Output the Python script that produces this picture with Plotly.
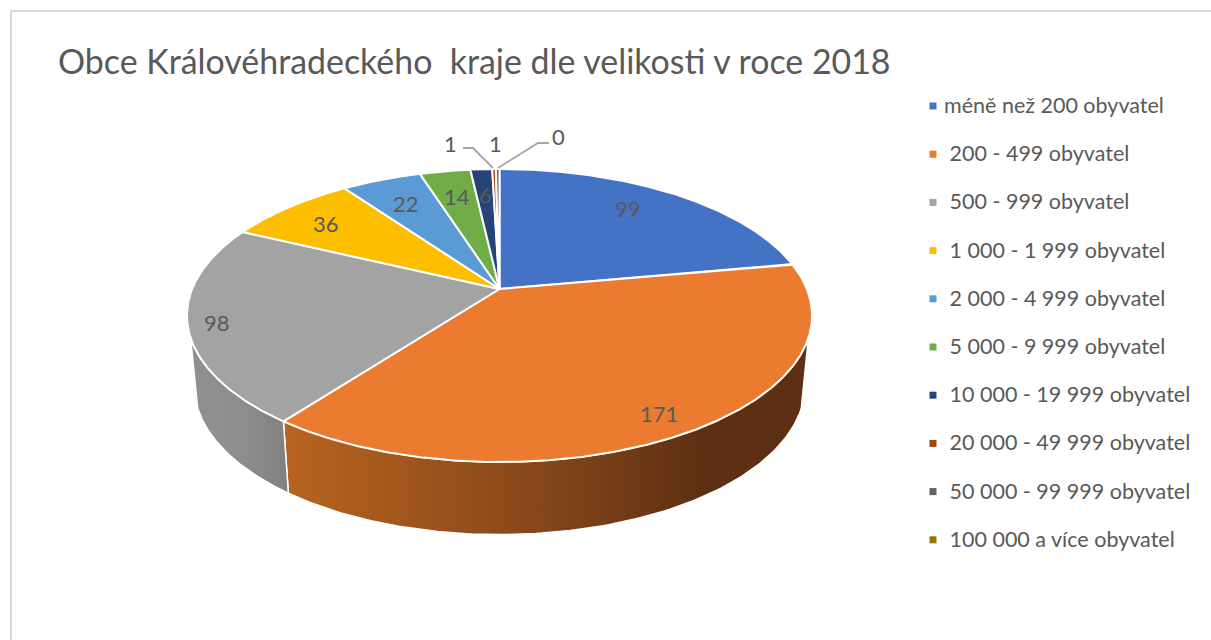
import numpy as np
import plotly.graph_objects as go

categories = ["méně než 200 obyvatel", "\u00a0200 - 499 obyvatel", "\u00a0500 - 999 obyvatel",
              "\u00a01 000 - 1 999 obyvatel", "\u00a02 000 - 4 999 obyvatel", "\u00a05 000 - 9 999 obyvatel",
              "\u00a010 000 - 19 999 obyvatel", "\u00a020 000 - 49 999 obyvatel",
              "\u00a050 000 - 99 999 obyvatel", "\u00a0100 000 a více obyvatel"]
values = [99, 171, 98, 36, 22, 14, 6, 1, 1, 0]
colors = ["#4472C4", "#EA7B30", "#A3A3A3", "#FDBE00", "#5B9BD5",
          "#70AD47", "#264478", "#9E480E", "#636363", "#997300"]
title_text = "Obce Královéhradeckého  kraje dle velikosti v roce 2018"

# value label anchor positions (page pixels), separate from the data
label_x = [628, 659, 217, 326, 406, 457, 485, 450, 495, 558]
label_y = [208, 413, 322, 223, 203, 196, 194, 143, 143, 136]

# projection of the tilted disc
CX, CY, A, B, K = 499.5, 289.0, 307.4, 141.7, 0.181
TOP_MID, TOP_RY, BOT_MID, BOT_RY, BOT_SX = 315.5, 146.5, 385.5, 149.0, 0.977
SILHOUETTE_V = 0.325
TEXT = "#595959"
FONT = "Lato, Carlito, sans-serif"
LEGEND_MARK_X, LEGEND_TEXT_X, LEGEND_Y0, LEGEND_STEP = 933, 942, 105, 48.2


def top(theta):
    u, v = np.sin(theta), -np.cos(theta)
    d = 1 - K * v
    return CX + A * u / d, CY + B * v / d


def rim(theta):
    x, y = top(theta)
    return CX + BOT_SX * (x - CX), BOT_MID + (y - TOP_MID) * BOT_RY / TOP_RY


total = sum(values)
edges = 2 * np.pi * np.concatenate([[0], np.cumsum(values)]) / total
vis_lo = np.pi - np.arccos(SILHOUETTE_V)
vis_hi = np.pi + np.arccos(SILHOUETTE_V)

fig = go.Figure()

wall_grad = {
    1: [[0, "#B8641F"], [0.45, "#8A491B"], [0.8, "#5E3013"], [1, "#5E3013"]],
    2: [[0, "#909090"], [0.5, "#8E8E8E"], [1, "#808080"]],
}
for i, (a, b) in enumerate(zip(edges[:-1], edges[1:])):
    lo, hi = max(a, vis_lo), min(b, vis_hi)
    if hi <= lo:
        continue
    t = np.linspace(lo, hi, 120)
    xt, yt = top(t)
    xb, yb = rim(t)
    xs = np.concatenate([xt, xb[::-1], xt[:1]])
    ys = np.concatenate([yt, yb[::-1], yt[:1]])
    fig.add_trace(go.Scatter(
        x=xs, y=ys, mode="lines", fill="toself", showlegend=False, hoverinfo="skip",
        line=dict(color="white", width=1.5),
        fillgradient=dict(type="horizontal", colorscale=wall_grad[i],
                          start=float(xs.min()), stop=float(xs.max())),
    ))

for i, (a, b) in enumerate(zip(edges[:-1], edges[1:])):
    if values[i] == 0:
        continue
    t = np.linspace(a, b, max(4, int(values[i] * 3)))
    xt, yt = top(t)
    fig.add_trace(go.Scatter(
        x=np.concatenate([[CX], xt, [CX]]), y=np.concatenate([[CY], yt, [CY]]),
        mode="lines", fill="toself", fillcolor=colors[i],
        line=dict(color="white", width=2), showlegend=False,
        name=categories[i].strip(), hovertemplate="%{fullData.name}: " + str(values[i]) + "<extra></extra>",
    ))

# legend column: square swatch plus real text, one row per category
for row, (name, col) in enumerate(zip(categories, colors)):
    yrow = LEGEND_Y0 + row * LEGEND_STEP
    fig.add_trace(go.Scatter(
        x=[LEGEND_MARK_X], y=[yrow + 1], mode="markers", name=name.strip(), showlegend=False,
        hoverinfo="name", marker=dict(symbol="square", size=7, color=col),
    ))
    fig.add_annotation(x=LEGEND_TEXT_X, y=yrow, text=name, showarrow=False, xanchor="left",
                       xref="x", yref="y", font=dict(family=FONT, size=21.5, color=TEXT))

for xv, yv, v in zip(label_x, label_y, values):
    fig.add_annotation(x=xv, y=yv, text=str(v), showarrow=False, xref="x", yref="y",
                       font=dict(family=FONT, size=22, color=TEXT))

fig.add_annotation(x=56, y=61, text=title_text, showarrow=False, xanchor="left", xref="x", yref="y",
                   font=dict(family=FONT, size=33.9, color=TEXT))

# leader lines
fig.add_trace(go.Scatter(x=[463, 473, 493], y=[148, 148, 168], mode="lines", showlegend=False,
                         hoverinfo="skip", line=dict(color="#A6A6A6", width=1.8)))
fig.add_trace(go.Scatter(x=[549, 538, 498], y=[143, 143, 168], mode="lines", showlegend=False,
                         hoverinfo="skip", line=dict(color="#A6A6A6", width=1.8)))

fig.update_layout(
    width=1211, height=640, margin=dict(l=0, r=0, t=0, b=0),
    paper_bgcolor="white", plot_bgcolor="white",
    xaxis=dict(range=[0, 1211], visible=False, fixedrange=True),
    yaxis=dict(range=[640, 0], visible=False, fixedrange=True),
    shapes=[dict(type="path", path="M 11 650 L 11 11 L 1215 11", xref="x", yref="y",
                 line=dict(color="#D9D9D9", width=2))],
    showlegend=False,
)
fig.write_html("out.html", config={"displayModeBar": False},
               post_script="document.body.style.margin='0';document.documentElement.style.overflow='hidden';")
